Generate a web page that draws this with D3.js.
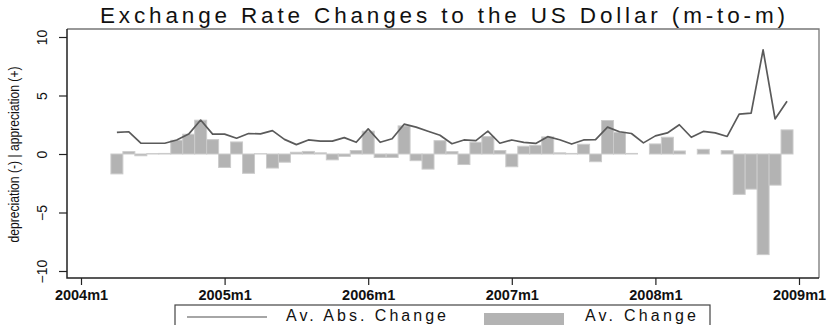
<!DOCTYPE html>
<html>
<head>
<meta charset="utf-8">
<script src="https://cdn.jsdelivr.net/npm/d3@7"></script>
<style>
  body { margin: 0; background: #fff; }
  text { font-family: Arial, "Liberation Sans", sans-serif; fill: #111; }
</style>
</head>
<body>
<div id="chart"></div>
<script>
// monthly observations
const months = [
  "2004m4", "2004m5", "2004m6", "2004m7", "2004m8", "2004m9", "2004m10", "2004m11", "2004m12",
  "2005m1", "2005m2", "2005m3", "2005m4", "2005m5", "2005m6", "2005m7", "2005m8", "2005m9", "2005m10", "2005m11", "2005m12",
  "2006m1", "2006m2", "2006m3", "2006m4", "2006m5", "2006m6", "2006m7", "2006m8", "2006m9", "2006m10", "2006m11", "2006m12",
  "2007m1", "2007m2", "2007m3", "2007m4", "2007m5", "2007m6", "2007m7", "2007m8", "2007m9", "2007m10", "2007m11", "2007m12",
  "2008m1", "2008m2", "2008m3", "2008m4", "2008m5", "2008m6", "2008m7", "2008m8", "2008m9", "2008m10", "2008m11", "2008m12"
];
const avgChange = [
  -1.7, 0.2, -0.15, 0.03, 0.05, 1.17, 1.69, 2.89, 1.23,
  -1.15, 1.03, -1.65, 0.02, -1.2, -0.7, 0.15, 0.22, 0.1, -0.5, -0.2, 0.3,
  1.95, -0.3, -0.3, 2.4, -0.57, -1.29, 1.14, 0.2, -0.9, 1.0, 1.49, 0.3,
  -1.09, 0.66, 0.74, 1.46, 0.1, 0.05, 0.83, -0.66, 2.86, 1.86, 0.05, 0.0,
  0.86, 1.43, 0.26, 0.0, 0.4, 0.0, 0.29, -3.45, -3.0, -8.6, -2.66, 2.06
];
const avgAbsChange = [
  1.85, 1.9, 0.92, 0.92, 0.92, 1.2, 1.7, 2.9, 1.7,
  1.7, 1.35, 1.75, 1.72, 2.0, 1.25, 0.8, 1.2, 1.1, 1.1, 1.4, 1.0,
  2.15, 1.0, 1.3, 2.55, 2.3, 1.95, 1.6, 0.88, 1.2, 1.15, 1.95, 0.92,
  1.2, 1.0, 0.9, 1.48, 1.22, 0.85, 1.2, 1.23, 2.3, 1.9, 1.75, 0.95,
  1.55, 1.8, 2.5, 1.43, 1.93, 1.8, 1.5, 3.4, 3.5, 8.9, 3.0, 4.5
];
const xTicks = ["2004m1", "2005m1", "2006m1", "2007m1", "2008m1", "2009m1"];
const yTicks = [-10, -5, 0, 5, 10];

//convert "2005m3" into months since 2004m1
function monthIndex(s) {
  const parts = s.split("m");
  return (+parts[0] - 2004) * 12 + (+parts[1] - 1);
}

const width = 838, height = 325;
const plot = { left: 67, right: 819, top: 29, bottom: 278 };

const svg = d3
  .select("#chart")
  .append("svg")
  .attr("width", width)
  .attr("height", height);

const x = d3
  .scaleLinear()
  .domain([monthIndex("2004m1"), monthIndex("2009m1")])
  .range([81, 799]);
const y = d3.scaleLinear().domain([-10, 10]).range([271, 37]);
const bw = x(1) - x(0);

//title
svg
  .append("text")
  .attr("x", 100)
  .attr("y", 23)
  .attr("textLength", 685)
  .attr("lengthAdjust", "spacing")
  .style("font-size", "22.5px")
  .text("Exchange Rate Changes to the US Dollar (m-to-m)");

//bars
svg
  .append("g")
  .selectAll("rect")
  .data(months)
  .join("rect")
  .attr("x", (m) => x(monthIndex(m)) - bw / 2)
  .attr("width", bw)
  .attr("y", (m, i) => y(Math.max(0, avgChange[i])))
  .attr("height", (m, i) => Math.abs(y(avgChange[i]) - y(0)))
  .attr("fill", "#b3b3b3")
  .attr("stroke", "#cbcbcb")
  .attr("stroke-width", 1);

//line
const line = d3
  .line()
  .x((m) => x(monthIndex(m)))
  .y((m, i) => y(avgAbsChange[i]));
svg
  .append("path")
  .attr("d", line(months))
  .attr("fill", "none")
  .attr("stroke", "#5a5a5a")
  .attr("stroke-width", 1.7)
  .attr("stroke-linejoin", "round");

//frame: light top/right, dark axes
svg
  .append("path")
  .attr("d", `M${plot.left},${plot.top}H${plot.right}V${plot.bottom}`)
  .attr("fill", "none")
  .attr("stroke", "#777")
  .attr("stroke-width", 1.3);
svg
  .append("path")
  .attr("d", `M${plot.left},${plot.top}V${plot.bottom}H${plot.right}`)
  .attr("fill", "none")
  .attr("stroke", "#222")
  .attr("stroke-width", 1.5);

//y axis
const yAxis = svg
  .append("g")
  .attr("transform", `translate(${plot.left},0)`)
  .call(d3.axisLeft(y).tickValues(yTicks).tickSize(8));
yAxis.select(".domain").remove();
yAxis.selectAll("line").attr("stroke", "#222").attr("stroke-width", 1.2);
yAxis
  .selectAll("text")
  .attr("transform", "rotate(-90)")
  .attr("x", 0)
  .attr("y", -20)
  .attr("dy", 0)
  .style("text-anchor", "middle")
  .style("font-size", "14px")
  .style("font-family", "Arial, 'Liberation Sans', sans-serif")
  .attr("fill", "#111");

svg
  .append("text")
  .attr("transform", `translate(19,${(plot.top + plot.bottom) / 2 + 1}) rotate(-90)`)
  .attr("text-anchor", "middle")
  .attr("textLength", 176)
  .attr("lengthAdjust", "spacingAndGlyphs")
  .style("font-size", "14px")
  .text("depreciation (-) | appreciation (+)");

//x axis
const xAxis = svg
  .append("g")
  .attr("transform", `translate(0,${plot.bottom})`)
  .call(
    d3
      .axisBottom(x)
      .tickValues(xTicks.map(monthIndex))
      .tickFormat((d, i) => xTicks[i])
      .tickSize(7)
  );
xAxis.select(".domain").remove();
xAxis.selectAll("line").attr("stroke", "#222").attr("stroke-width", 1.2);
xAxis
  .selectAll("text")
  .attr("y", 12)
  .style("font-size", "14.5px")
  .style("font-weight", "bold")
  .style("font-family", "Arial, 'Liberation Sans', sans-serif")
  .attr("fill", "#222");

//legend (cut by the bottom edge)
const legend = svg.append("g");
legend
  .append("rect")
  .attr("x", 175)
  .attr("y", 305)
  .attr("width", 535)
  .attr("height", 40)
  .attr("fill", "#fff")
  .attr("stroke", "#444")
  .attr("stroke-width", 1.2);
legend
  .append("line")
  .attr("x1", 187)
  .attr("x2", 267)
  .attr("y1", 317)
  .attr("y2", 317)
  .attr("stroke", "#888")
  .attr("stroke-width", 1.5);
legend
  .append("text")
  .attr("x", 286)
  .attr("y", 321)
  .attr("textLength", 160)
  .attr("lengthAdjust", "spacing")
  .style("font-size", "16px")
  .text("Av. Abs. Change");
legend
  .append("rect")
  .attr("x", 484)
  .attr("y", 313)
  .attr("width", 80)
  .attr("height", 20)
  .attr("fill", "#b3b3b3");
legend
  .append("text")
  .attr("x", 585)
  .attr("y", 321)
  .attr("textLength", 111)
  .attr("lengthAdjust", "spacing")
  .style("font-size", "16px")
  .text("Av. Change");
</script>
</body>
</html>
